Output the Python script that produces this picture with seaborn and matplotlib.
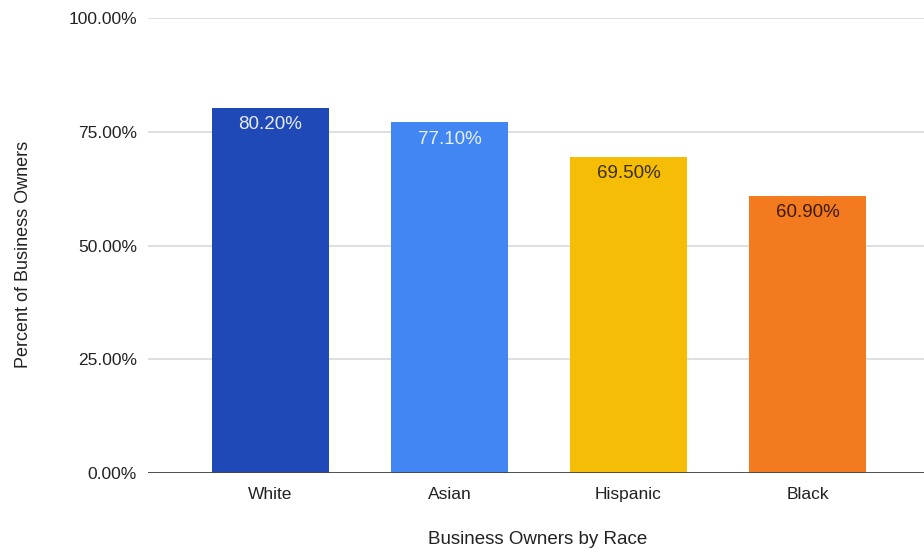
import matplotlib
matplotlib.use("Agg")
import matplotlib.pyplot as plt
import seaborn as sns
import pandas as pd
from matplotlib.ticker import FuncFormatter

races = ["White", "Asian", "Hispanic", "Black"]
values = [80.2, 77.1, 69.5, 60.9]
colors = ["#1E49B7", "#4286F4", "#F6BD06", "#F47A1F"]
label_colors = ["#E8ECF8", "#E8F0FE", "#3A2E00", "#3A1A00"]
yticks = [0, 25, 50, 75, 100]

sns.set_style("white")
plt.rcParams["font.family"] = ["Liberation Sans", "DejaVu Sans"]

df = pd.DataFrame({"race": races, "value": values})

fig = plt.figure(figsize=(9.24, 5.53), dpi=100)
ax = fig.add_axes([148/924, 1-473/553, (924-148)/924, (473-18)/553])

sns.barplot(data=df, x="race", y="value", hue="race", palette=colors,
            order=races, hue_order=races, width=0.654, legend=False,
            ax=ax, saturation=1, zorder=3, linewidth=0, edgecolor="none")

ax.set_ylim(0, 100)
ax.set_xlim(-0.684, 3.651)
ax.set_yticks(yticks)
ax.yaxis.set_major_formatter(FuncFormatter(lambda v, p: f"{v:.2f}%"))
ax.grid(axis="y", color="#D9D9D9", linewidth=1.2, zorder=0)
ax.axhline(0, color="#444444", linewidth=1.3, zorder=4)
for s in ax.spines.values():
    s.set_visible(False)
ax.tick_params(axis="both", length=0, labelsize=12.5, colors="#222222")
ax.tick_params(axis="x", pad=10)
ax.tick_params(axis="y", pad=8)
ax.set_xlabel("")
ax.set_ylabel("")

for i, (v, c) in enumerate(zip(values, label_colors)):
    ax.annotate(f"{v:.2f}%", xy=(i, v), xytext=(0, -6), textcoords="offset points",
                ha="center", va="top", fontsize=13.5, color=c, zorder=5)

fig.text(538/924, 1-540/553, "Business Owners by Race", ha="center", va="center",
         fontsize=13.5, color="#222222")
fig.text(24/924, 1-254/553, "Percent of Business Owners", ha="center", va="center",
         rotation=90, fontsize=13, color="#222222")

fig.savefig("out.png", dpi=100)
